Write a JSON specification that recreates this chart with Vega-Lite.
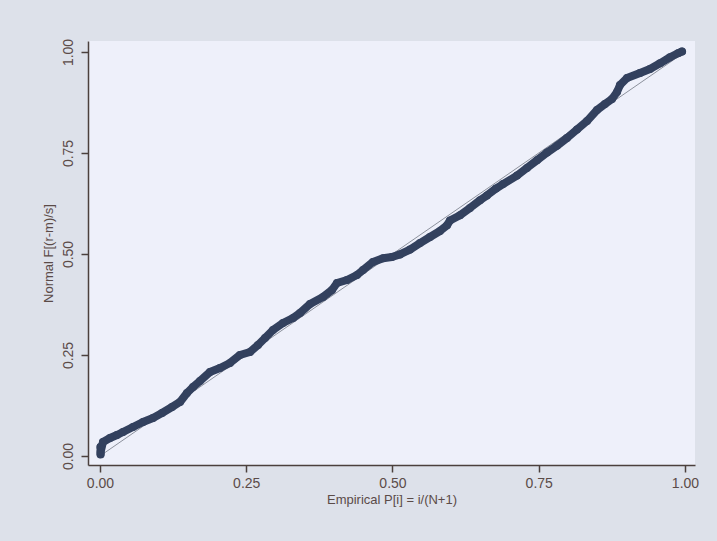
{
  "$schema": "https://vega.github.io/schema/vega-lite/v6.json",
  "width": 607,
  "height": 424,
  "autosize": {"type": "none"},
  "padding": {"left": 88, "top": 41, "right": 22, "bottom": 76},
  "background": "#dde1ea",
  "config": {
    "view": {"fill": "#eef0fa", "stroke": null},
    "font": "Liberation Sans",
    "axis": {
      "grid": false,
      "domainColor": "#4b403d",
      "domainWidth": 1.5,
      "tickColor": "#4b403d",
      "tickWidth": 1.5,
      "tickSize": 7,
      "labelColor": "#5b4b48",
      "titleColor": "#5b4b48",
      "labelFont": "Liberation Sans",
      "titleFont": "Liberation Sans",
      "labelFontSize": 14,
      "titleFontSize": 13,
      "titleFontWeight": "normal"
    }
  },
  "datasets": {
    "pp": [
      {"p": 0.001, "f": 0.004},
      {"p": 0.001, "f": 0.010},
      {"p": 0.0009, "f": 0.0223},
      {"p": 0.0051, "f": 0.0347},
      {"p": 0.0171, "f": 0.0446},
      {"p": 0.0291, "f": 0.052},
      {"p": 0.0393, "f": 0.0594},
      {"p": 0.0564, "f": 0.0718},
      {"p": 0.0735, "f": 0.0842},
      {"p": 0.0906, "f": 0.0941},
      {"p": 0.106, "f": 0.1064},
      {"p": 0.1231, "f": 0.1213},
      {"p": 0.1368, "f": 0.1337},
      {"p": 0.1487, "f": 0.1559},
      {"p": 0.159, "f": 0.1708},
      {"p": 0.1709, "f": 0.1856},
      {"p": 0.188, "f": 0.2079},
      {"p": 0.2051, "f": 0.2178},
      {"p": 0.2222, "f": 0.2302},
      {"p": 0.2393, "f": 0.25},
      {"p": 0.2564, "f": 0.2574},
      {"p": 0.2701, "f": 0.2748},
      {"p": 0.2821, "f": 0.2921},
      {"p": 0.2957, "f": 0.3119},
      {"p": 0.3128, "f": 0.3292},
      {"p": 0.3299, "f": 0.3416},
      {"p": 0.3419, "f": 0.354},
      {"p": 0.359, "f": 0.3762},
      {"p": 0.3812, "f": 0.3936},
      {"p": 0.3966, "f": 0.4109},
      {"p": 0.4051, "f": 0.4282},
      {"p": 0.4222, "f": 0.4356},
      {"p": 0.4393, "f": 0.448},
      {"p": 0.4496, "f": 0.4604},
      {"p": 0.4667, "f": 0.4802},
      {"p": 0.4838, "f": 0.4896},
      {"p": 0.4991, "f": 0.4925},
      {"p": 0.5128, "f": 0.499},
      {"p": 0.5299, "f": 0.511},
      {"p": 0.547, "f": 0.527},
      {"p": 0.5641, "f": 0.542},
      {"p": 0.5812, "f": 0.557},
      {"p": 0.5932, "f": 0.571},
      {"p": 0.5983, "f": 0.583},
      {"p": 0.6154, "f": 0.596},
      {"p": 0.6325, "f": 0.614},
      {"p": 0.6496, "f": 0.633},
      {"p": 0.6615, "f": 0.645},
      {"p": 0.6769, "f": 0.662},
      {"p": 0.6889, "f": 0.673},
      {"p": 0.7128, "f": 0.694},
      {"p": 0.7299, "f": 0.713},
      {"p": 0.747, "f": 0.732},
      {"p": 0.7641, "f": 0.751},
      {"p": 0.7812, "f": 0.768},
      {"p": 0.7983, "f": 0.787},
      {"p": 0.8154, "f": 0.808},
      {"p": 0.8325, "f": 0.829},
      {"p": 0.8496, "f": 0.8564},
      {"p": 0.8632, "f": 0.8713},
      {"p": 0.8752, "f": 0.8837},
      {"p": 0.8838, "f": 0.901},
      {"p": 0.8889, "f": 0.9183},
      {"p": 0.9009, "f": 0.9356},
      {"p": 0.9231, "f": 0.948},
      {"p": 0.9402, "f": 0.958},
      {"p": 0.9573, "f": 0.972},
      {"p": 0.9744, "f": 0.987},
      {"p": 0.988, "f": 0.997},
      {"p": 0.9949, "f": 1.001}
    ],
    "ref": [
      {"p": 0, "f": 0},
      {"p": 1, "f": 1}
    ]
  },
  "encoding": {
    "x": {
      "field": "p",
      "type": "quantitative",
      "scale": {"domain": [-0.0205, 1.0171], "nice": false, "zero": false},
      "axis": {
        "values": [0, 0.25, 0.5, 0.75, 1],
        "format": ".2f",
        "title": "Empirical P[i] = i/(N+1)",
        "labelPadding": 4,
        "titlePadding": 3,
        "labelFlush": false
      }
    },
    "y": {
      "field": "f",
      "type": "quantitative",
      "scale": {"domain": [-0.0223, 1.0272], "nice": false, "zero": false},
      "axis": {
        "values": [0, 0.25, 0.5, 0.75, 1],
        "format": ".2f",
        "title": "Normal F[(r-m)/s]",
        "labelAngle": -90,
        "labelAlign": "center",
        "labelBaseline": "bottom",
        "labelPadding": 6,
        "titlePadding": 6,
        "labelFlush": false
      }
    }
  },
  "layer": [
    {
      "data": {"name": "ref"},
      "mark": {"type": "line", "color": "#8c919c", "strokeWidth": 1},
      "encoding": {}
    },
    {
      "data": {"name": "pp"},
      "mark": {"type": "line", "color": "#33415e", "strokeWidth": 8, "strokeCap": "round", "strokeJoin": "round"},
      "encoding": {"order": {"field": "p", "type": "quantitative"}}
    },
    {
      "data": {"name": "pp"},
      "mark": {"type": "circle", "color": "#33415e", "opacity": 1, "size": 64},
      "encoding": {}
    }
  ]
}
